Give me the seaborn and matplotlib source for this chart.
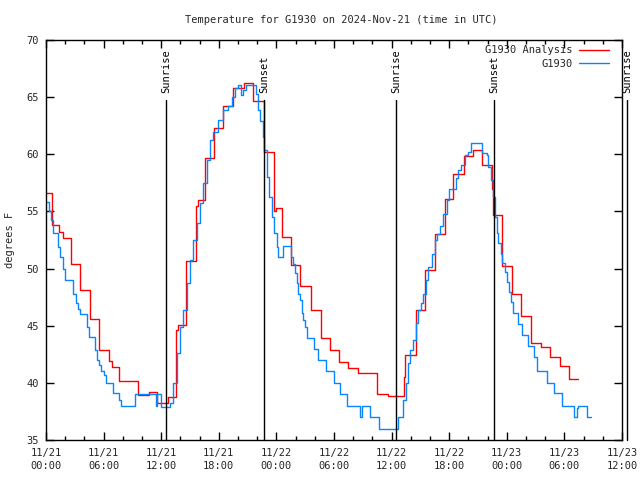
import numpy as np
import pandas as pd
import matplotlib
matplotlib.use("Agg")
import matplotlib.pyplot as plt
import matplotlib.dates as mdates
import matplotlib.transforms as mtransforms
import seaborn as sns

# ---------------- data (hours since 2024-11-21 00:00 UTC, degrees F) ----------------
start = pd.Timestamp("2024-11-21 00:00")
x_end_hours = 60.0

red_hours = [0.0, 0.63, 1.4, 1.75, 2.57, 3.54, 4.58, 5.55, 6.55, 6.85, 7.6, 9.58, 10.73,
             11.6, 12.74, 13.5, 13.8, 14.6, 15.6, 15.8, 16.6, 17.5, 18.4, 19.5, 20.6,
             21.6, 22.7, 23.7, 24.0, 24.6, 25.5, 26.5, 27.6, 28.6, 29.6, 30.5, 31.5,
             32.5, 34.5, 35.65, 37.3, 37.4, 38.5, 39.5, 40.5, 41.6, 42.4, 43.5, 44.5,
             45.45, 46.45, 46.6, 47.5, 48.5, 49.5, 50.5, 51.6, 52.5, 53.55, 54.5, 55.45]
red_temp = [56.6, 53.8, 53.2, 52.65, 50.4, 48.1, 45.6, 42.85, 41.9, 41.36, 40.2, 38.9, 39.2,
            38.2, 38.8, 44.6, 45.1, 50.7, 55.5, 56.0, 59.65, 62.27, 64.2, 65.77, 66.2,
            64.66, 60.2, 55.0, 55.3, 52.74, 50.3, 48.5, 46.35, 43.9, 42.9, 41.8, 41.3,
            40.9, 39.0, 38.85, 40.5, 42.4, 46.4, 49.9, 53.0, 56.06, 58.25, 59.85, 60.4,
            59.06, 57.0, 54.7, 50.2, 47.75, 45.85, 43.46, 43.17, 42.3, 41.48, 40.35, 40.35]

blue_hours = [0.05, 0.3, 0.55, 0.76, 1.3, 1.5, 1.74, 1.95, 2.78, 3.1, 3.33, 3.54, 4.3, 4.5,
              5.07, 5.28, 5.5, 5.76, 6.04, 6.25, 6.95, 7.57, 7.78, 9.3, 11.45, 11.6, 11.95,
              12.92, 13.26, 13.61, 13.96, 14.3, 14.66, 15.0, 15.34, 15.7, 16.04, 16.39,
              16.74, 17.08, 17.43, 17.95, 18.47, 18.99, 19.34, 19.69, 20.03, 20.28, 20.55,
              20.8, 21.84, 22.05, 22.29, 22.64, 22.74, 22.99, 23.26, 23.51, 23.75, 24.03,
              24.2, 24.72, 25.49, 25.76, 25.94, 26.11, 26.28, 26.46, 26.64, 26.8, 26.98,
              27.22, 27.95, 28.36, 29.14, 30.0, 30.63, 31.39, 32.71, 32.95, 33.7, 34.72,
              36.53, 36.64, 36.7, 37.22, 37.47, 37.68, 37.92, 38.26, 38.51, 38.78, 39.06,
              39.3, 39.55, 39.82, 40.18, 40.52, 40.76, 41.04, 41.39, 41.74, 42.01, 42.68,
              42.95, 43.23, 43.65, 43.99, 44.27, 45.45, 45.9, 46.07, 46.35, 46.59, 46.77,
              46.95, 47.11, 47.36, 47.53, 47.81, 47.99, 48.23, 48.44, 48.68, 49.14, 49.61,
              50.18, 50.86, 51.11, 52.16, 52.92, 53.72, 55.0, 55.34, 55.45, 56.39, 56.74]
blue_temp = [55.85, 55.0, 54.25, 53.1, 51.9, 51.0, 50.0, 49.0, 47.8, 46.96, 46.5, 46.0, 44.9, 44.04,
             42.9, 42.0, 41.6, 41.07, 40.7, 40.0, 39.1, 38.5, 38.0, 39.0, 38.0, 39.0, 37.9,
             38.2, 40.0, 42.6, 44.9, 46.4, 48.7, 50.75, 52.5, 53.96, 55.7, 57.46,
             59.5, 61.25, 61.98, 63.0, 63.9, 64.2, 65.0, 65.77, 66.1, 65.2, 65.6,
             66.06, 65.3, 63.9, 62.9, 61.5, 60.4, 58.0, 56.3, 54.5, 53.1, 51.9,
             51.0, 52.0, 51.0, 50.4, 49.6, 48.7, 47.8, 47.25, 46.1, 45.5, 44.9,
             43.96, 43.0, 42.0, 41.07, 40.0, 39.0, 38.0, 37.05, 38.0, 37.05, 35.94,
             36.0, 36.75, 37.05, 38.5, 39.97, 41.7, 42.9, 43.75, 45.2, 46.4, 46.96,
             47.8, 49.0, 50.17, 51.3, 52.5, 53.0, 53.7, 54.8, 56.0, 56.94, 57.9,
             58.6, 59.06, 59.9, 60.2, 61.0, 60.1, 59.9, 58.9, 57.75, 56.3, 54.5,
             53.1, 52.2, 51.3, 50.46, 49.7, 48.85, 47.98, 47.1, 46.1, 45.15, 44.2,
             43.2, 42.3, 41.07, 40.0, 39.1, 38.0, 37.05, 37.8, 38.0, 37.05, 37.05]

sun_hours = [12.5, 22.7, 36.47, 46.68, 60.5]
sun_labels = ["Sunrise", "Sunset", "Sunrise", "Sunset", "Sunrise"]

y_ticks = [35, 40, 45, 50, 55, 60, 65, 70]
series_names = ["G1930 Analysis", "G1930"]
title = "Temperature for G1930 on 2024-Nov-21 (time in UTC)"
y_label = "degrees F"

# ---------------- build frames ----------------
def to_time(h):
    return start + pd.to_timedelta(np.asarray(h, dtype=float), unit="h")

red_df = pd.DataFrame({"time": to_time(red_hours), "temp": red_temp})
blue_df = pd.DataFrame({"time": to_time(blue_hours), "temp": blue_temp})

# ---------------- plot ----------------
sns.set_style("ticks")
plt.rcParams["font.family"] = ["DejaVu Sans Mono"]
FS = 7.5

fig = plt.figure(figsize=(6.4, 4.8), dpi=100)
ax = fig.add_axes([46 / 640, 40 / 480, 576 / 640, 400 / 480])

sns.lineplot(data=red_df, x="time", y="temp", ax=ax, color="#ff0000", lw=1.0,
             drawstyle="steps-post", estimator=None, label=series_names[0])
sns.lineplot(data=blue_df, x="time", y="temp", ax=ax, color="#0a84ff", lw=1.0,
             drawstyle="steps-post", estimator=None, label=series_names[1])

# sunrise / sunset markers
trans = mtransforms.blended_transform_factory(ax.transData, ax.transAxes)
for h, lab in zip(sun_hours, sun_labels):
    t = mdates.date2num(to_time([h])[0])
    ax.plot([t, t], [0, 0.85], transform=trans, color="black", lw=1.0, clip_on=False)
    ax.text(t, 0.868, lab, transform=trans, rotation=90, ha="center", va="bottom",
            fontsize=FS, color="black", clip_on=False)

ax.set_xlim(to_time([0])[0], to_time([x_end_hours])[0])
ax.set_ylim(y_ticks[0], y_ticks[-1])
ax.set_yticks(y_ticks)
ax.xaxis.set_major_locator(mdates.HourLocator(byhour=[0, 6, 12, 18]))
ax.xaxis.set_minor_locator(mdates.HourLocator(interval=2))
ax.xaxis.set_major_formatter(mdates.DateFormatter("%m/%d\n%H:%M"))
for lbl in ax.get_xticklabels():
    lbl.set_linespacing(1.35)

ax.tick_params(which="both", direction="in", top=True, right=True, labelsize=FS,
               color="black", width=1.0)
ax.tick_params(which="major", length=6)
ax.tick_params(which="minor", length=3)
ax.tick_params(axis="x", pad=6)
ax.tick_params(axis="y", pad=5)
for s in ax.spines.values():
    s.set_color("black")
    s.set_linewidth(1.0)
    s.set_visible(True)

ax.set_xlabel("")
ax.set_ylabel("")
fig.text(10 / 640, 0.5, y_label, rotation=90, ha="center", va="center", fontsize=FS)
fig.text(341 / 640, 1 - 20 / 480, title, ha="center", va="center", fontsize=FS)

leg = ax.legend(loc="upper right", bbox_to_anchor=(1 - 8 / 576, 1.0), frameon=False,
                markerfirst=False, fontsize=FS, handlelength=2.9, handletextpad=0.6,
                labelspacing=0.35, borderaxespad=0.2, borderpad=0.3)

fig.savefig("out.png", dpi=100)
